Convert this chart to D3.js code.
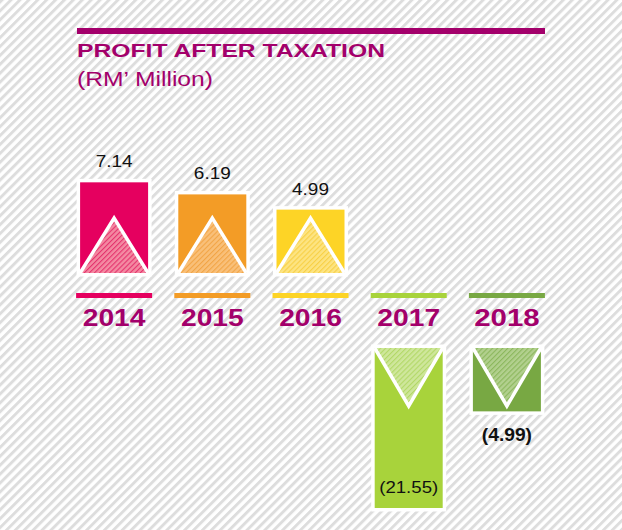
<!DOCTYPE html>
<html>
<head>
<meta charset="utf-8">
<script src="https://cdn.jsdelivr.net/npm/d3@7"></script>
<style>
  html, body { margin: 0; padding: 0; background: #fff; }
  svg { display: block; }
  text { font-family: "Liberation Sans", Arial, Helvetica, sans-serif; }
</style>
</head>
<body>
<svg id="chart" width="622" height="530"></svg>
<script>
// ---- data ----
const years = ["2014", "2015", "2016", "2017", "2018"];
const values = [7.14, 6.19, 4.99, -21.55, -4.99];
const labels = ["7.14", "6.19", "4.99", "(21.55)", "(4.99)"];
const barColors = ["#e5005f", "#f39c26", "#fdd426", "#a8d33b", "#78a843"];
const tintColors = ["#f48aa2", "#f9c07a", "#fde482", "#cfe79c", "#b2d08e"];
const hatchColors = ["#e4336e", "#f2a445", "#f8d045", "#b2d866", "#8bb75c"];
const titleText = "PROFIT AFTER TAXATION";
const subtitleText = "(RM\u2019 Million)";

const svg = d3.select("#chart");
const W = 622, H = 530;
const accent = "#a3006b";

// ---- background stripes ----
const defs = svg.append("defs");
const bg = defs.append("pattern")
  .attr("id", "bgStripes").attr("patternUnits", "userSpaceOnUse")
  .attr("width", 6.3).attr("height", 6.3)
  .attr("patternTransform", "rotate(45)");
bg.append("rect").attr("width", 6.3).attr("height", 6.3).attr("fill", "#ffffff");
bg.append("rect").attr("width", 2.9).attr("height", 6.3).attr("fill", "#dddddd");
svg.append("rect").attr("width", W).attr("height", H).attr("fill", "url(#bgStripes)");

// hatch patterns for triangles
years.forEach((y, i) => {
  const p = defs.append("pattern")
    .attr("id", "hatch" + i).attr("patternUnits", "userSpaceOnUse")
    .attr("width", 3.6).attr("height", 3.6)
    .attr("patternTransform", "rotate(45)");
  p.append("rect").attr("width", 3.6).attr("height", 3.6).attr("fill", tintColors[i]);
  p.append("rect").attr("width", 1.1).attr("height", 3.6).attr("fill", hatchColors[i]);
});

// ---- title ----
svg.append("rect").attr("x", 77).attr("y", 28).attr("width", 468).attr("height", 6).attr("fill", accent);
svg.append("text").attr("x", 77).attr("y", 57)
  .attr("font-size", 19).attr("font-weight", "bold").attr("fill", accent)
  .attr("textLength", 308).attr("lengthAdjust", "spacingAndGlyphs")
  .text(titleText);
svg.append("text").attr("x", 77).attr("y", 86)
  .attr("font-size", 20).attr("fill", accent)
  .attr("textLength", 136).attr("lengthAdjust", "spacingAndGlyphs")
  .text(subtitleText);

// ---- scales ----
const x = d3.scaleBand().domain(years).range([65, 556]).paddingInner(0).paddingOuter(0);
const h = d3.scaleLinear().domain([0, 12.6]).range([0, 160]).clamp(true);
const posBase = 273;   // bottom of positive bars
const negBase = 348;   // top of negative bars
const fillW = 68, lineW = 76, border = 3.5, triH = 55;

const data = years.map((y, i) => ({ year: y, value: values[i], label: labels[i], i }));

const g = svg.append("g");
data.forEach(d => {
  const cx = x(d.year) + x.bandwidth() / 2;
  const x0 = cx - fillW / 2, x1 = cx + fillW / 2;
  const bh = h(Math.abs(d.value));
  const top = d.value >= 0 ? posBase - bh : negBase;
  const bottom = d.value >= 0 ? posBase : negBase + bh;

  // white border
  g.append("rect").attr("x", x0 - border).attr("y", top - border)
    .attr("width", fillW + 2 * border).attr("height", bottom - top + 2 * border)
    .attr("fill", "#ffffff");
  // bar fill
  g.append("rect").attr("x", x0).attr("y", top)
    .attr("width", fillW).attr("height", bottom - top)
    .attr("fill", barColors[d.i]);

  // triangle
  let pts;
  if (d.value >= 0) {
    pts = [[x0, bottom], [cx, bottom - triH], [x1, bottom]];
  } else {
    pts = [[x0, top], [cx, top + triH + 3], [x1, top]];
  }
  g.append("path").attr("d", d3.line()(pts) + "Z").attr("fill", `url(#hatch${d.i})`);
  g.append("path").attr("d", d3.line()(pts)).attr("fill", "none")
    .attr("stroke", "#ffffff").attr("stroke-width", 3.5).attr("stroke-linejoin", "miter");

  // baseline colored line
  g.append("rect").attr("x", cx - lineW / 2).attr("y", 293)
    .attr("width", lineW).attr("height", 5).attr("fill", barColors[d.i]);

  // year label
  g.append("text").attr("transform", `translate(${cx},326) scale(1.2,1)`)
    .attr("text-anchor", "middle").attr("font-size", d.i === 4 ? 24.5 : 23.5)
    .attr("font-weight", "bold").attr("fill", accent)
    .text(d.year);

  // value label
  let ly, bold = false, sx = 1.15;
  if (d.value >= 0) {
    ly = top - 15;
  } else if (Math.abs(d.value) >= h.domain()[1]) {
    ly = bottom - 15; sx = 1.13;
  } else {
    ly = bottom + 30; bold = true; sx = 1.1;
  }
  g.append("text").attr("transform", `translate(${cx},${ly}) scale(${sx},1)`)
    .attr("text-anchor", "middle").attr("font-size", bold ? 17.5 : 16.5)
    .attr("font-weight", bold ? "bold" : "normal").attr("fill", "#111")
    .text(d.label);
});
</script>
</body>
</html>
